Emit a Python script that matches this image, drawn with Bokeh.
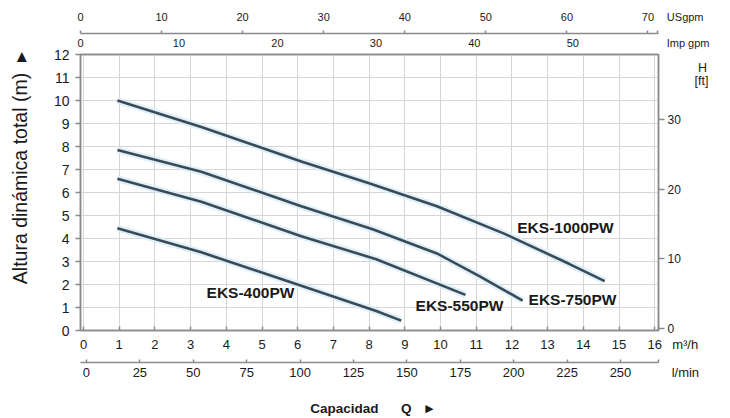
import math
from bokeh.plotting import figure
from bokeh.models import Range1d, LinearAxis, FixedTicker, Label
from bokeh.embed import file_html
from bokeh.resources import INLINE

# ---- data (flow in m3/h, head in m) ----
flow_1000 = [0.95, 3.3, 6.1, 8.0, 9.9, 11.8, 13.6, 14.6]
head_1000 = [10.0, 8.85, 7.35, 6.4, 5.4, 4.2, 2.9, 2.15]
flow_750 = [0.95, 3.3, 6.1, 8.1, 9.9, 11.1, 12.3]
head_750 = [7.85, 6.9, 5.4, 4.4, 3.35, 2.35, 1.3]
flow_550 = [0.95, 3.3, 6.1, 8.2, 10.7]
head_550 = [6.6, 5.6, 4.1, 3.1, 1.55]
flow_400 = [0.95, 3.3, 6.1, 8.2, 8.9]
head_400 = [4.45, 3.4, 1.95, 0.85, 0.43]

models = ["EKS-1000PW", "EKS-750PW", "EKS-550PW", "EKS-400PW"]

m3h_ticks = list(range(0, 17))
lmin_ticks = [0, 25, 50, 75, 100, 125, 150, 175, 200, 225, 250]
usgpm_ticks = [0, 10, 20, 30, 40, 50, 60, 70]
imp_ticks = [0, 10, 20, 30, 40, 50]
head_ticks = list(range(0, 13))
ft_ticks = [0, 10, 20, 30]

FONT = "Liberation Sans"
TXT = "#1a1a1a"
AX = "#8a8a8a"
NB = "\u00a0"

# page-pixel -> data helpers (annotation placement only)
def dx(px):
    return (px - 83) / 35.7

def dy(py):
    return (332 - py) / 23.17

X0, X1 = dx(80), dx(658)
US_END, IMP_END = 71.3, 58.7
LM_START, LM_END = -2.8, 267.8
FT_START, FT_END = -0.29, 39.4

p = figure(width=730, height=418, output_backend="svg", toolbar_location=None,
           x_range=Range1d(X0, X1), y_range=Range1d(0, 12),
           min_border_left=80, min_border_right=72, min_border_top=54, min_border_bottom=86)
p.extra_x_ranges = {"usgpm": Range1d(0, US_END), "imp": Range1d(0, IMP_END),
                    "lmin": Range1d(LM_START, LM_END)}
p.extra_y_ranges = {"ft": Range1d(FT_START, FT_END)}

p.background_fill_color = "white"
p.border_fill_color = "white"
p.outline_line_color = AX
p.outline_line_width = 1.5

def style_axis(ax, ticks, size, tick_in=0, tick_out=0, standoff=4, overrides=None):
    ax.ticker = FixedTicker(ticks=ticks)
    if overrides:
        ax.major_label_overrides = overrides
    ax.major_label_text_font = FONT
    ax.major_label_text_font_size = size
    ax.major_label_text_color = TXT
    ax.axis_line_color = AX
    ax.axis_line_width = 1.5
    ax.major_tick_line_color = AX
    ax.major_tick_line_width = 1.5
    ax.major_tick_in = tick_in
    ax.major_tick_out = tick_out
    ax.minor_tick_line_color = None
    ax.major_label_standoff = standoff

# unit captions sit at the far end of their axes
m3h_end = round(X1 - 0.01, 3)
lmin_end = round(LM_END - 0.1, 2)
us_end = round(US_END - 0.1, 2)
imp_end = round(IMP_END - 0.1, 2)

# bottom m3/h axis
xa = p.xaxis[0]
style_axis(xa, m3h_ticks + [m3h_end], "13px", tick_in=4, tick_out=0, standoff=6,
           overrides={m3h_end: NB * 15 + "m³/h"})
xa.axis_label = NB
xa.axis_label_text_font_size = "4px"
xa.axis_label_standoff = 0

# bottom l/min axis with the "Capacidad Q" caption
la = LinearAxis(x_range_name="lmin")
style_axis(la, lmin_ticks + [lmin_end], "13px", tick_in=3, tick_out=0, standoff=2,
           overrides={lmin_end: NB * 15 + "l/min"})
la.axis_label = NB * 2 + "Capacidad" + NB * 6 + "Q" + NB * 3 + "\u25ba"
la.axis_label_text_font = FONT
la.axis_label_text_font_size = "13.5px"
la.axis_label_text_font_style = "bold"
la.axis_label_text_color = TXT
la.axis_label_standoff = 18
p.add_layout(la, "below")

# left head axis with its caption (the small arrow turns upward with the text)
ya = p.yaxis[0]
style_axis(ya, head_ticks, "14px", tick_in=0, tick_out=5, standoff=6)
ya.axis_label = NB * 9 + "Altura dinámica total (m)" + NB * 2 + "\u25b8"
ya.axis_label_text_font = FONT
ya.axis_label_text_font_size = "19.5px"
ya.axis_label_text_font_style = "normal"
ya.axis_label_text_color = TXT
ya.axis_label_standoff = 20

# right ft axis
fa = LinearAxis(y_range_name="ft")
style_axis(fa, ft_ticks, "12px", tick_in=0, tick_out=6, standoff=3)
p.add_layout(fa, "right")

# "H [ft]" caption as a bare outer right axis
h_pos, ft_pos = 37.4, 35.55
ha = LinearAxis(y_range_name="ft")
style_axis(ha, [h_pos, ft_pos], "12.5px", tick_in=0, tick_out=0, standoff=11,
           overrides={h_pos: NB + "H", ft_pos: "[ft]"})
ha.axis_line_color = None
ha.major_tick_line_color = None
p.add_layout(ha, "right")

# top Imp gpm axis (inner) and USgpm axis (outer)
ia = LinearAxis(x_range_name="imp")
style_axis(ia, imp_ticks + [imp_end], "11px", tick_in=0, tick_out=0, standoff=6,
           overrides={imp_end: NB * 20 + "Imp gpm"})
p.add_layout(ia, "above")

ua = LinearAxis(x_range_name="usgpm")
style_axis(ua, usgpm_ticks + [us_end], "11px", tick_in=0, tick_out=3, standoff=8,
           overrides={us_end: NB * 18 + "USgpm"})
p.add_layout(ua, "above")

p.xgrid.ticker = FixedTicker(ticks=m3h_ticks)
p.ygrid.ticker = FixedTicker(ticks=head_ticks)
p.xgrid.grid_line_color = "#d6d6d6"
p.ygrid.grid_line_color = "#d6d6d6"

# curves
for fx, hy in [(flow_1000, head_1000), (flow_750, head_750),
               (flow_550, head_550), (flow_400, head_400)]:
    p.line(fx, hy, line_color="#d8ecf6", line_width=7, line_alpha=0.8)
    p.line(fx, hy, line_color="#3a4b57", line_width=2.6)

# curve labels
for name, (px, py) in zip(models, [(565, 228), (572, 301), (459, 307), (250, 294)]):
    p.add_layout(Label(x=dx(px), y=dy(py), text=name, text_font=FONT,
                       text_font_size="15.5px", text_font_style="bold",
                       text_color=TXT, text_align="center", text_baseline="middle"))

open("out.html", "w").write(file_html(p, INLINE))
